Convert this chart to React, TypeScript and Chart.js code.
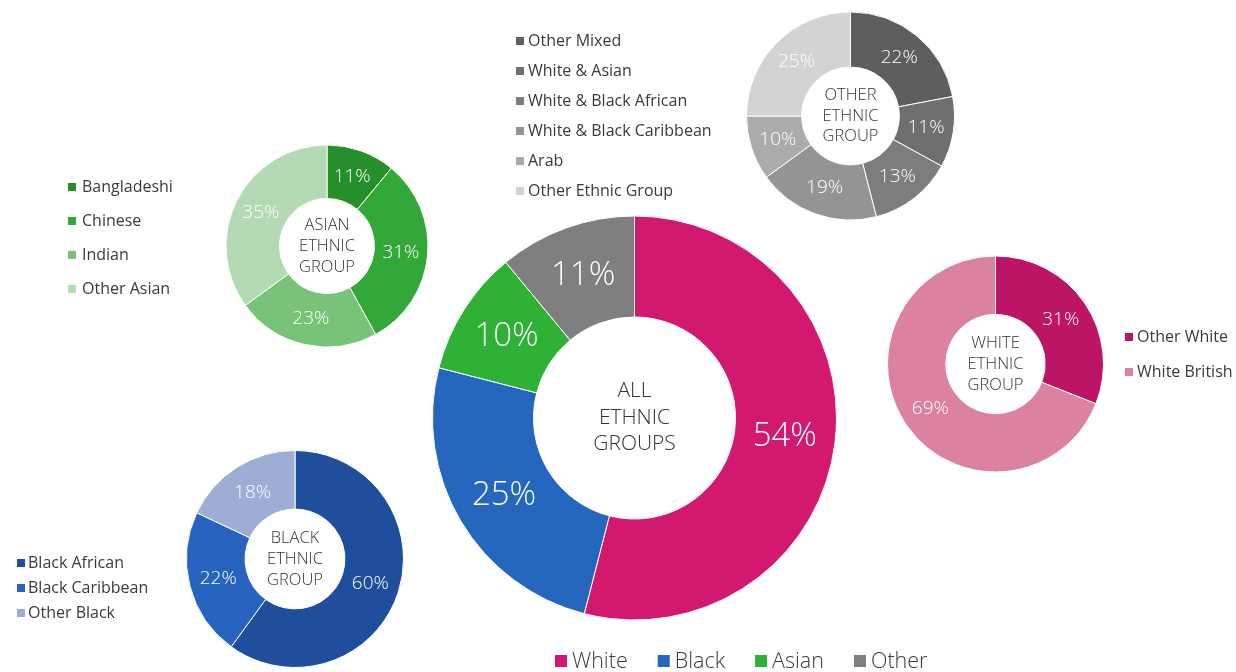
import React, { useEffect, useRef } from "react";
import { Chart, registerables } from "chart.js";

Chart.register(...registerables);

const W = 1236;
const H = 672;
const FONT = "'Open Sans', 'Noto Sans', sans-serif";

// ---- data ----
const mainLabels = ["White", "Black", "Asian", "Other"];
const mainValues = [54, 25, 10, 11];
const mainColors = ["#D2186F", "#2566BE", "#2EB135", "#7F7F7F"];
const mainCenter = ["ALL", "ETHNIC", "GROUPS"];

const otherLabels = [
  "Other Mixed",
  "White & Asian",
  "White & Black African",
  "White & Black Caribbean",
  "Arab",
  "Other Ethnic Group",
];
const otherValues = [22, 11, 13, 19, 10, 25];
const otherColors = ["#5E5E5E", "#6F6F6F", "#7D7D7D", "#949494", "#ABABAB", "#D3D3D3"];
const otherCenter = ["OTHER", "ETHNIC", "GROUP"];

const asianLabels = ["Bangladeshi", "Chinese", "Indian", "Other Asian"];
const asianValues = [11, 31, 23, 35];
const asianColors = ["#248F2B", "#32A838", "#77C479", "#B3DAB3"];
const asianCenter = ["ASIAN", "ETHNIC", "GROUP"];

const blackLabels = ["Black African", "Black Caribbean", "Other Black"];
const blackValues = [60, 22, 18];
const blackColors = ["#1F4F9C", "#2764C0", "#9EADD6"];
const blackCenter = ["BLACK", "ETHNIC", "GROUP"];

const whiteLabels = ["Other White", "White British"];
const whiteValues = [31, 69];
const whiteColors = ["#BD1566", "#DB829F"];
const whiteCenter = ["WHITE", "ETHNIC", "GROUP"];

type LegendSpec = {
  dir: "v" | "h";
  x: number;
  y: number;
  step: number;
  box: number;
  textOffset: number;
  size: number;
  weight: number;
};

type Spec = {
  labels: string[];
  values: number[];
  colors: string[];
  center: string[];
  cx: number;
  cy: number;
  r: number;
  cutout: string;
  labelSize: number;
  centerSize: number;
  centerLH: number;
  legend: LegendSpec;
};

const specs: Spec[] = [
  {
    labels: mainLabels, values: mainValues, colors: mainColors, center: mainCenter,
    cx: 634.5, cy: 418, r: 202, cutout: "50%", labelSize: 33, centerSize: 21, centerLH: 26.5,
    legend: { dir: "h", x: 555, y: 661, step: 30, box: 12, textOffset: 17, size: 21.5, weight: 300 },
  },
  {
    labels: otherLabels, values: otherValues, colors: otherColors, center: otherCenter,
    cx: 850.5, cy: 116, r: 104, cutout: "47%", labelSize: 19, centerSize: 16.5, centerLH: 20.5,
    legend: { dir: "v", x: 516, y: 41, step: 30, box: 8, textOffset: 12, size: 16, weight: 400 },
  },
  {
    labels: asianLabels, values: asianValues, colors: asianColors, center: asianCenter,
    cx: 327, cy: 246, r: 101, cutout: "47%", labelSize: 19, centerSize: 16.5, centerLH: 21,
    legend: { dir: "v", x: 68, y: 187, step: 34, box: 8, textOffset: 14, size: 16, weight: 400 },
  },
  {
    labels: blackLabels, values: blackValues, colors: blackColors, center: blackCenter,
    cx: 295, cy: 559, r: 108.5, cutout: "46%", labelSize: 19, centerSize: 16.5, centerLH: 21,
    legend: { dir: "v", x: 17, y: 563, step: 25, box: 8, textOffset: 11, size: 16, weight: 400 },
  },
  {
    labels: whiteLabels, values: whiteValues, colors: whiteColors, center: whiteCenter,
    cx: 995.5, cy: 364, r: 108, cutout: "46%", labelSize: 19, centerSize: 16.5, centerLH: 21,
    legend: { dir: "v", x: 1125, y: 337, step: 35, box: 8, textOffset: 12, size: 16, weight: 400 },
  },
];

const decorPlugin = {
  id: "decor",
  afterDatasetsDraw(chart: any, _args: any, opts: any) {
    const spec: Spec = opts.spec;
    if (!spec) return;
    const ctx = chart.ctx as CanvasRenderingContext2D;
    const meta = chart.getDatasetMeta(0);
    const ds = chart.data.datasets[0];
    ctx.save();
    // value labels
    ctx.fillStyle = "#FFFFFF";
    ctx.textAlign = "center";
    ctx.textBaseline = "middle";
    ctx.font = `300 ${spec.labelSize}px ${FONT}`;
    meta.data.forEach((arc: any, i: number) => {
      const p = arc.tooltipPosition(false);
      ctx.fillText(`${ds.data[i]}%`, p.x, p.y);
    });
    // centre text
    const c = meta.data[0];
    ctx.fillStyle = "#333333";
    ctx.font = `300 ${spec.centerSize}px ${FONT}`;
    const n = spec.center.length;
    spec.center.forEach((line, i) => {
      ctx.fillText(line, c.x, c.y + (i - (n - 1) / 2) * spec.centerLH);
    });
    // legend
    const lg = spec.legend;
    ctx.font = `${lg.weight} ${lg.size}px ${FONT}`;
    ctx.textAlign = "left";
    let x = lg.x;
    chart.data.labels.forEach((label: string, i: number) => {
      const col = (ds.backgroundColor as string[])[i];
      let bx: number, by: number;
      if (lg.dir === "v") {
        bx = lg.x;
        by = lg.y + i * lg.step;
      } else {
        bx = x;
        by = lg.y;
      }
      ctx.fillStyle = col;
      ctx.fillRect(bx, by - lg.box / 2, lg.box, lg.box);
      ctx.fillStyle = "#3A3A3A";
      ctx.fillText(label, bx + lg.textOffset, by + 0.5);
      if (lg.dir === "h") {
        x = bx + lg.textOffset + ctx.measureText(label).width + lg.step;
      }
    });
    ctx.restore();
  },
};

function Donut({ spec }: { spec: Spec }) {
  const ref = useRef<HTMLCanvasElement | null>(null);
  useEffect(() => {
    if (!ref.current) return;
    const s = spec.r + 2;
    const padding = {
      left: spec.cx - s,
      right: W - spec.cx - s,
      top: spec.cy - s,
      bottom: H - spec.cy - s,
    };
    const chart = new Chart(ref.current, {
      type: "doughnut",
      data: {
        labels: spec.labels,
        datasets: [
          {
            data: spec.values,
            backgroundColor: spec.colors,
            borderColor: "#FFFFFF",
            borderWidth: 1,
          },
        ],
      },
      options: {
        responsive: false,
        animation: false,
        events: [],
        radius: spec.r,
        cutout: spec.cutout,
        layout: { padding },
        plugins: {
          legend: { display: false },
          tooltip: { enabled: false },
          decor: { spec },
        } as any,
      } as any,
      plugins: [decorPlugin],
    });
    return () => chart.destroy();
  }, [spec]);
  return (
    <canvas
      ref={ref}
      width={W}
      height={H}
      style={{ position: "absolute", left: 0, top: 0, width: W, height: H }}
    />
  );
}

export default function App() {
  return (
    <div
      style={{
        position: "absolute",
        left: 0,
        top: 0,
        width: W,
        height: H,
        background: "#FFFFFF",
        overflow: "hidden",
      }}
    >
      {specs.map((s, i) => (
        <Donut key={i} spec={s} />
      ))}
    </div>
  );
}
